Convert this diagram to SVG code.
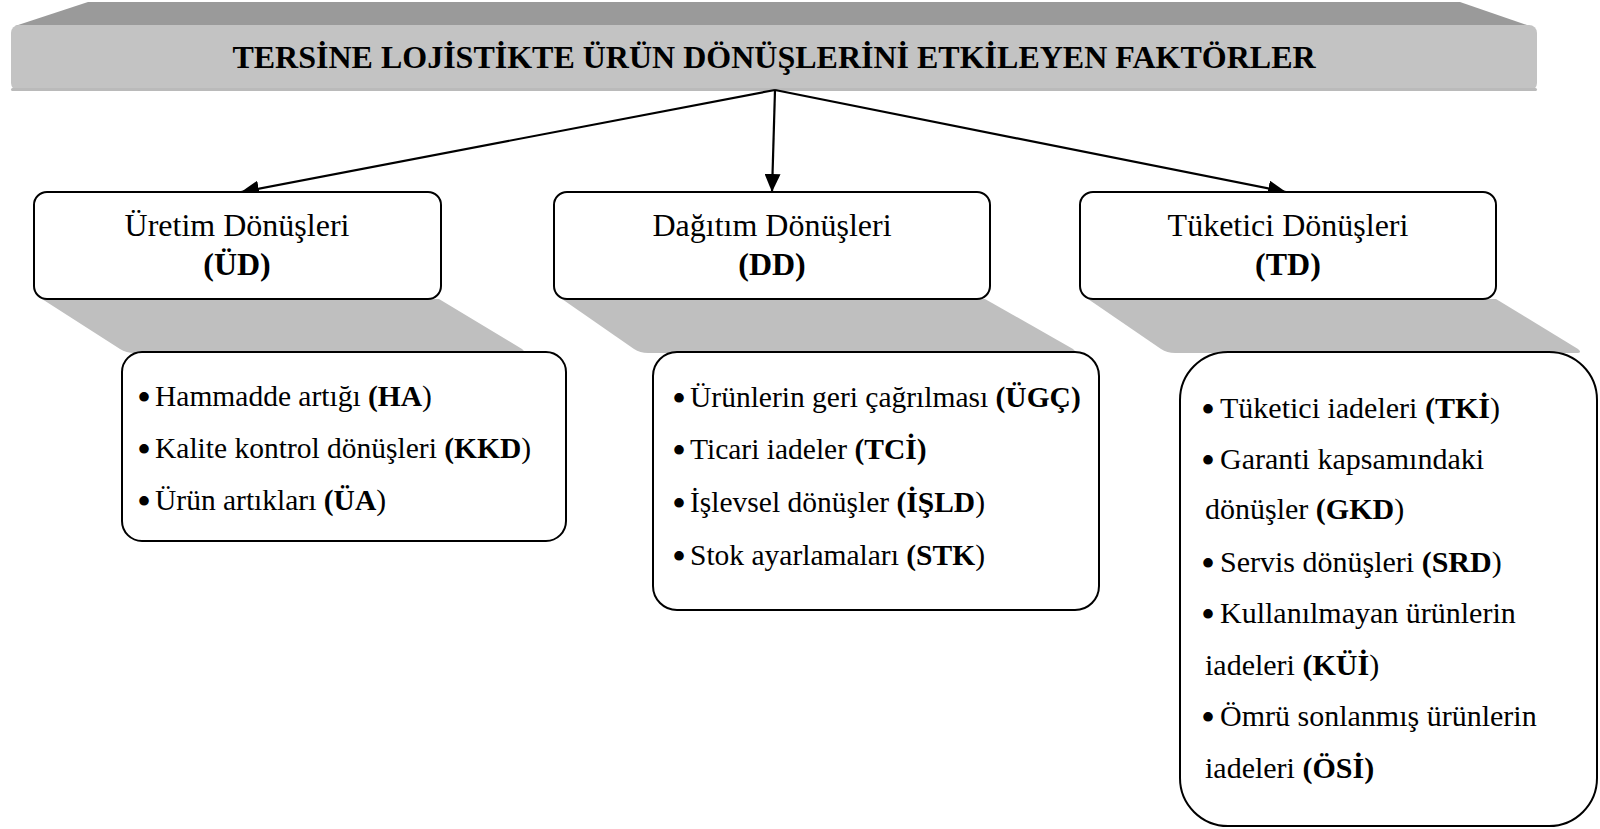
<svg xmlns="http://www.w3.org/2000/svg" width="1600" height="829" viewBox="0 0 1600 829">
  <style>
    .t { font-family: "Liberation Serif", "Times New Roman", serif; fill: #000; }
    .title { font-size: 32px; font-weight: bold; }
    .head { font-size: 32px; }
    .item { font-size: 29.5px; }
    .item3 { font-size: 30px; }
    .dot { font-family: "Liberation Serif", "Times New Roman", serif; font-size: 40px; text-anchor: middle; fill: #000; }
    .b { font-weight: bold; }
    .box { fill: #fff; stroke: #000; stroke-width: 2; }
    .shadow { fill: #bfbfbf; }
    .conn { stroke: #000; stroke-width: 2.2; fill: none; marker-end: url(#arrow); }
  </style>
  <defs>
    <marker id="arrow" markerUnits="userSpaceOnUse" markerWidth="20" markerHeight="16" refX="18" refY="8" orient="auto">
      <path d="M0,0 L18,8 L0,16 Z" fill="#000"/>
    </marker>
  </defs>

  <rect width="1600" height="829" fill="#fff"/>

  <!-- title banner -->
  <g id="title">
    <polygon points="15,26 88,2 1460,2 1530,26" fill="#9a9a9a"/>
    <rect x="11" y="25" width="1526" height="66" rx="8" fill="#c3c3c3"/>
    <rect x="11" y="88" width="1526" height="3" rx="1.5" fill="#bababa"/>
    <text class="t title" x="774" y="68" text-anchor="middle">TERSİNE LOJİSTİKTE ÜRÜN DÖNÜŞLERİNİ ETKİLEYEN FAKTÖRLER</text>
  </g>

  <!-- connectors -->
  <g id="connectors">
    <line class="conn" x1="775" y1="90" x2="241" y2="192"/>
    <line class="conn" x1="775" y1="90" x2="772" y2="192"/>
    <line class="conn" x1="775" y1="90" x2="1286" y2="192"/>
  </g>

  <!-- projection shadows between headers and detail boxes -->
  <g id="shadows">
    <path class="shadow" d="M42,299 L439,299 L522,349 Q527,353 520,353 L135,353 Q126,353 120,349 Z"/>
    <path class="shadow" d="M562,299 L985,299 L1073,349 Q1078,353 1071,353 L648,353 Q640,353 634,349 Z"/>
    <path class="shadow" d="M1088,299 L1496,299 L1578,349 Q1583,353 1576,353 L1175,353 Q1167,353 1161,349 Z"/>
  </g>

  <!-- production returns -->
  <g id="ud">
    <rect class="box" x="34" y="192" width="407" height="107" rx="13"/>
    <text class="t head" x="237" y="236" text-anchor="middle">Üretim Dönüşleri</text>
    <text class="t head b" x="237" y="275" text-anchor="middle">(ÜD)</text>
  </g>
  <g id="ud-items">
    <rect class="box" x="122" y="352" width="444" height="189" rx="20"/>
    <text class="dot" x="144" y="411">•</text>
    <text class="dot" x="144" y="463">•</text>
    <text class="dot" x="144" y="515">•</text>
    <text class="t item" x="155" y="406">Hammadde artığı <tspan class="b">(HA</tspan>)</text>
    <text class="t item" x="155" y="458">Kalite kontrol dönüşleri <tspan class="b">(KKD</tspan>)</text>
    <text class="t item" x="155" y="510">Ürün artıkları <tspan class="b">(ÜA</tspan>)</text>
  </g>

  <!-- distribution returns -->
  <g id="dd">
    <rect class="box" x="554" y="192" width="436" height="107" rx="13"/>
    <text class="t head" x="772" y="236" text-anchor="middle">Dağıtım Dönüşleri</text>
    <text class="t head b" x="772" y="275" text-anchor="middle">(DD)</text>
  </g>
  <g id="dd-items">
    <rect class="box" x="653" y="352" width="446" height="258" rx="24"/>
    <text class="dot" x="679" y="412">•</text>
    <text class="dot" x="679" y="464">•</text>
    <text class="dot" x="679" y="517">•</text>
    <text class="dot" x="679" y="570">•</text>
    <text class="t item" x="690" y="407">Ürünlerin geri çağrılması <tspan class="b">(ÜGÇ)</tspan></text>
    <text class="t item" x="690" y="459">Ticari iadeler <tspan class="b">(TCİ)</tspan></text>
    <text class="t item" x="690" y="512">İşlevsel dönüşler <tspan class="b">(İŞLD</tspan>)</text>
    <text class="t item" x="690" y="565">Stok ayarlamaları <tspan class="b">(STK</tspan>)</text>
  </g>

  <!-- consumer returns -->
  <g id="td">
    <rect class="box" x="1080" y="192" width="416" height="107" rx="13"/>
    <text class="t head" x="1288" y="236" text-anchor="middle">Tüketici Dönüşleri</text>
    <text class="t head b" x="1288" y="275" text-anchor="middle">(TD)</text>
  </g>
  <g id="td-items">
    <rect class="box" x="1180" y="352" width="417" height="474" rx="48"/>
    <text class="dot" x="1208" y="423">•</text>
    <text class="dot" x="1208" y="474">•</text>
    <text class="dot" x="1208" y="577">•</text>
    <text class="dot" x="1208" y="628">•</text>
    <text class="dot" x="1208" y="731">•</text>
    <text class="t item3" x="1220" y="418">Tüketici iadeleri <tspan class="b">(TKİ</tspan>)</text>
    <text class="t item3" x="1220" y="469">Garanti kapsamındaki</text>
    <text class="t item3" x="1205" y="519">dönüşler <tspan class="b">(GKD</tspan>)</text>
    <text class="t item3" x="1220" y="572">Servis dönüşleri <tspan class="b">(SRD</tspan>)</text>
    <text class="t item3" x="1220" y="623">Kullanılmayan ürünlerin</text>
    <text class="t item3" x="1205" y="675">iadeleri <tspan class="b">(KÜİ</tspan>)</text>
    <text class="t item3" x="1220" y="726">Ömrü sonlanmış ürünlerin</text>
    <text class="t item3" x="1205" y="778">iadeleri <tspan class="b">(ÖSİ)</tspan></text>
  </g>
</svg>
